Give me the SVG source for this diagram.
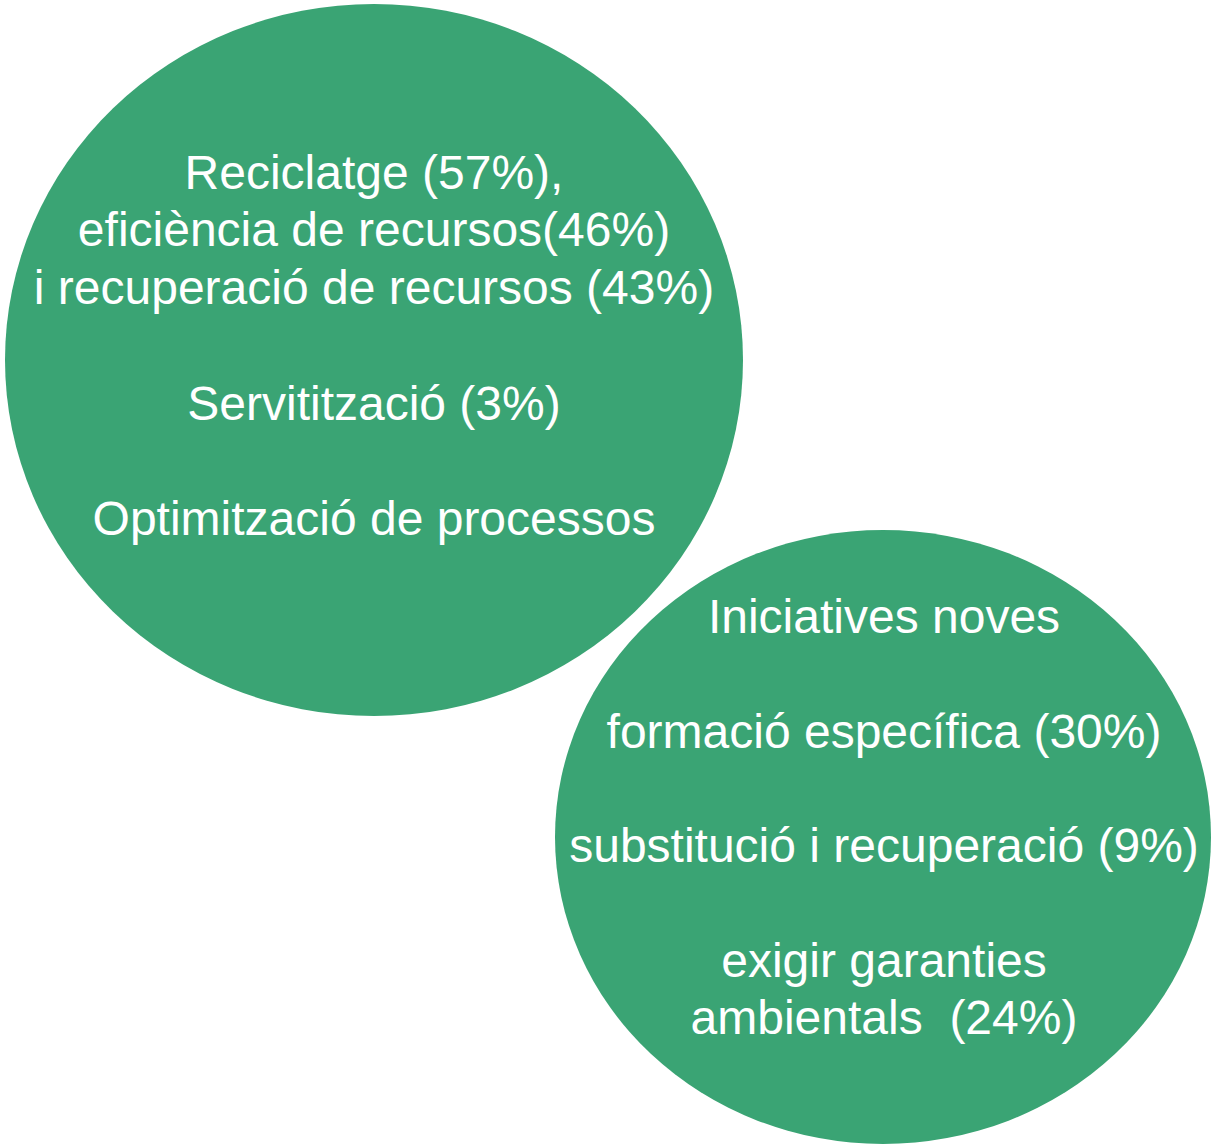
<svg xmlns="http://www.w3.org/2000/svg" width="1211" height="1147" viewBox="0 0 1211 1147">
<style>
.c{fill:#3aa474}
.t{font-family:"Liberation Sans",Arial,sans-serif;font-size:48px;fill:#ffffff;text-anchor:middle;white-space:pre}
</style>
<rect width="1211" height="1147" fill="#ffffff"/>
<g id="node1">
<ellipse class="c" cx="374" cy="360" rx="369" ry="356"/>
<text class="t" x="374" y="189">Reciclatge (57%),</text>
<text class="t" x="374" y="246">eficiència de recursos(46%)</text>
<text class="t" x="374" y="304">i recuperació de recursos (43%)</text>
<text class="t" x="374" y="420">Servitització (3%)</text>
<text class="t" x="374" y="535">Optimització de processos</text>
</g>
<g id="node2">
<ellipse class="c" cx="883" cy="837" rx="328" ry="307"/>
<text class="t" x="884" y="633">Iniciatives noves</text>
<text class="t" x="884" y="748">formació específica (30%)</text>
<text class="t" x="884" y="862">substitució i recuperació (9%)</text>
<text class="t" x="884" y="977">exigir garanties</text>
<text class="t" x="884" y="1034" xml:space="preserve">ambientals  (24%)</text>
</g>
<g id="connectors"/>
</svg>
